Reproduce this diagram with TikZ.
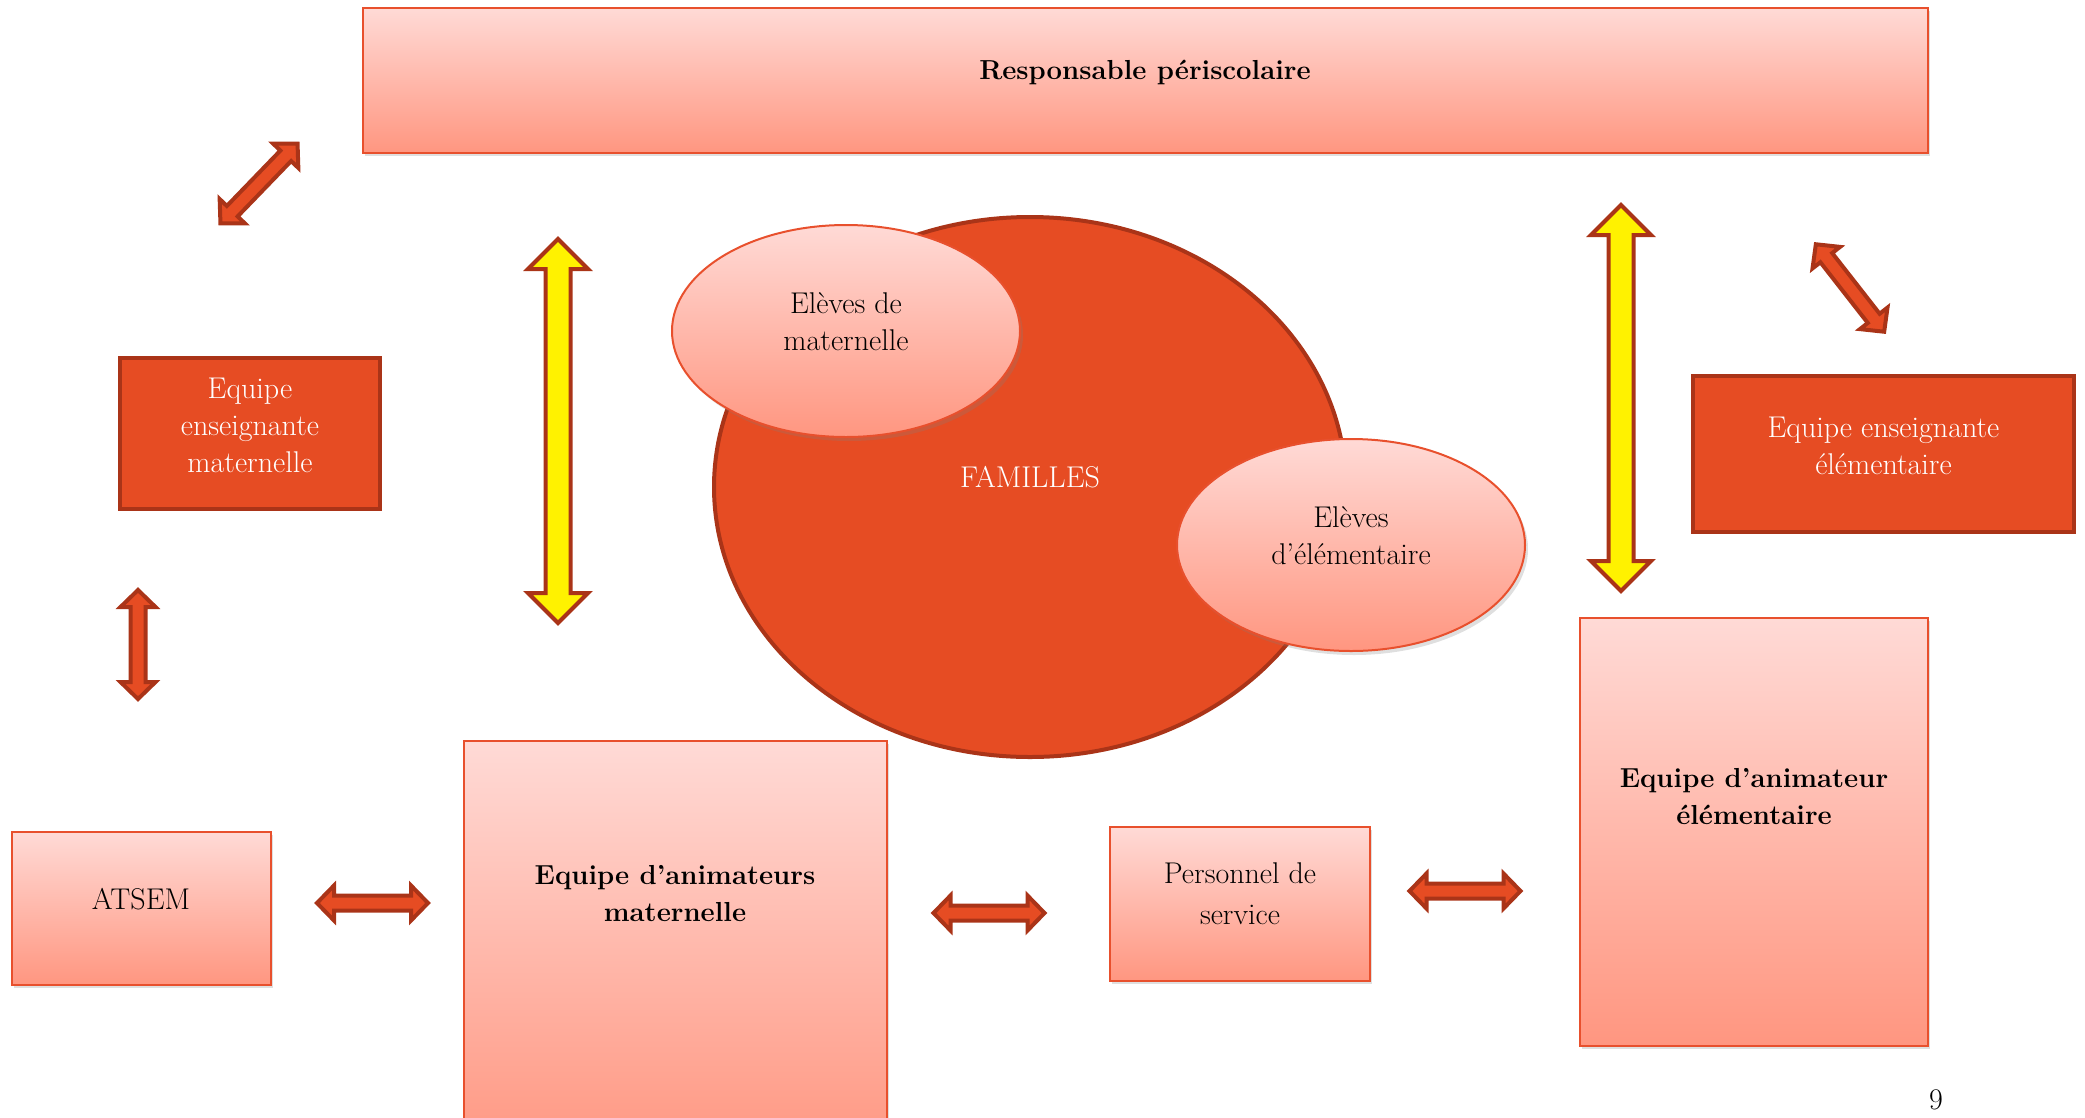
\documentclass[tikz,border=0pt]{standalone}
\usepackage{tikz}
\usetikzlibrary{shapes.geometric,shadows}

\definecolor{famred}{RGB}{230,76,35}
\definecolor{darkline}{RGB}{170,52,24}
\definecolor{pinktop}{RGB}{255,218,214}
\definecolor{pinkbot}{RGB}{255,150,128}
\definecolor{boxline}{RGB}{232,80,45}

\tikzset{
  lightbox/.style={rectangle, draw=boxline, line width=2pt, top color=pinktop, bottom color=pinkbot,
    drop shadow={shadow xshift=2pt, shadow yshift=-3pt, opacity=0.25}, inner sep=0pt},
  darkbox/.style={rectangle, draw=darkline, line width=4pt, fill=famred, inner sep=0pt},
  bubble/.style={ellipse, draw=boxline, line width=2pt, top color=pinktop, bottom color=pinkbot,
    drop shadow={shadow xshift=3pt, shadow yshift=-4pt, opacity=0.25}, inner sep=0pt},
  txt/.style={align=center, font=\fontsize{30}{37}\selectfont},
  boldtxt/.style={align=center, font=\fontsize{27.5}{37}\selectfont\bfseries},
  redarrow/.style={draw=darkline, fill=famred, line width=4pt, line join=miter},
  yellowarrow/.style={draw=darkline, fill=yellow, line width=4pt, line join=miter}
}

% style, centre, angle, half length, half shaft, half head, head length
\newcommand{\dblarrow}[7]{%
  \draw[#1, shift={#2}, rotate=#3] (-#4,0) -- (-#4+#7,#6) -- (-#4+#7,#5) -- (#4-#7,#5) -- (#4-#7,#6)
    -- (#4,0) -- (#4-#7,-#6) -- (#4-#7,-#5) -- (-#4+#7,-#5) -- (-#4+#7,-#6) -- cycle;}

\begin{document}
\begin{tikzpicture}[x=1pt, y=-1pt]
    \useasboundingbox (0,0) rectangle (2085,1117);

    % familles
    \node[ellipse, draw=darkline, line width=4pt, fill=famred, minimum width=632pt, minimum height=540pt,
      inner sep=0pt] (fam) at (1030,487) {};
    \node[txt, text=white] (famtxt) at (1030,477) {FAMILLES};
    \node[bubble, minimum width=348pt, minimum height=212pt] (elmat) at (846,331) {};
    \node[txt] (elmattxt) at (846,322) {Elèves de\\maternelle};
    \node[bubble, minimum width=348pt, minimum height=212pt] (elelem) at (1351,545) {};
    \node[txt] (elelemtxt) at (1351,536) {Elèves\\d’élémentaire};

    % boxes
    \node[lightbox, minimum width=1565pt, minimum height=145pt] (resp) at (1145.5,80.5) {};
    \node[boldtxt] (resptxt) at (1145,72) {Responsable périscolaire};

    \node[darkbox, minimum width=260pt, minimum height=151pt] (ensmat) at (250,433.5) {};
    \node[txt, text=white] (ensmattxt) at (250,425.5) {Equipe\\enseignante\\maternelle};
    \node[darkbox, minimum width=381pt, minimum height=156pt] (enselem) at (1883.5,454) {};
    \node[txt, text=white] (enselemtxt) at (1883.5,446) {Equipe enseignante\\élémentaire};

    \node[lightbox, minimum width=259pt, minimum height=153pt] (atsem) at (141.5,908.5) {};
    \node[txt] (atsemtxt) at (141,899) {ATSEM};

    \node[lightbox, minimum width=423pt, minimum height=420pt] (animmat) at (675.5,951) {};
    \node[boldtxt] (animmattxt) at (675,893.5) {Equipe d’animateurs\\maternelle};

    \node[lightbox, minimum width=260pt, minimum height=154pt] (pers) at (1240,904) {};
    \node[txt, font=\fontsize{30}{41}\selectfont] (perstxt) at (1240,894) {Personnel de\\service};

    \node[lightbox, minimum width=348pt, minimum height=428pt] (animelem) at (1754,832) {};
    \node[boldtxt] (animelemtxt) at (1754,796.5) {Equipe d’animateur\\élémentaire};

    % arrows
    \dblarrow{yellowarrow}{(558,431)}{90}{192}{12.5}{30}{30}
    \dblarrow{yellowarrow}{(1621,398)}{90}{193}{12.5}{30}{30}
    \dblarrow{redarrow}{(259,183.5)}{46}{55.5}{7.5}{17.5}{17}
    \dblarrow{redarrow}{(1850,288)}{-52}{55.5}{7.5}{17.5}{17}
    \dblarrow{redarrow}{(138,644.5)}{90}{54.5}{7.5}{17.5}{17}
    \dblarrow{redarrow}{(372.5,903)}{0}{55.5}{7.5}{17.5}{17}
    \dblarrow{redarrow}{(989,913)}{0}{55.5}{7.5}{17.5}{17}
    \dblarrow{redarrow}{(1465,891)}{0}{55.5}{7.5}{17.5}{17}

    \node[txt] (page) at (1936,1100) {9};
\end{tikzpicture}
\end{document}
